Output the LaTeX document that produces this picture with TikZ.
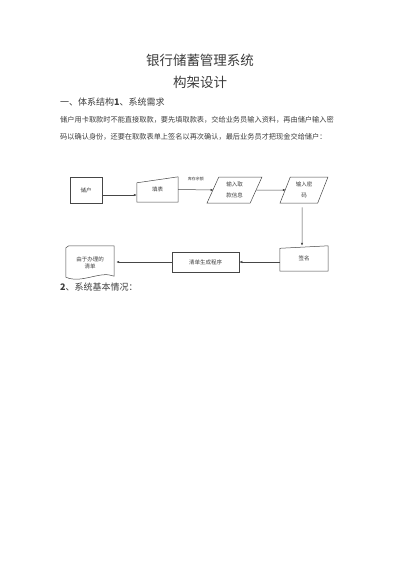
\documentclass[tikz,border=0pt]{standalone}
\usepackage{fontspec}
\setmainfont{Noto Sans CJK SC}
\usetikzlibrary{positioning,shapes.geometric,calc,arrows.meta}
\definecolor{inkgray}{RGB}{60,60,60}
\definecolor{linegray}{RGB}{70,70,70}
\tikzset{
  pagetxt/.style={anchor=west, inner sep=0pt, text=inkgray, align=left},
  flowbox/.style={draw=linegray, line width=0.5pt, inner sep=0pt, align=center,
                  text=inkgray, font=\fontsize{5.5}{11}\selectfont},
  flowslant/.style={trapezium, trapezium left angle=69, trapezium right angle=111,
                    trapezium stretches=true, draw=linegray, line width=0.5pt,
                    inner sep=0pt, align=center, text=inkgray,
                    font=\fontsize{5.5}{11}\selectfont},
  flowghost/.style={inner sep=0pt, align=center, text=inkgray,
                    font=\fontsize{5.5}{11}\selectfont},
  flowarr/.style={->, >={Latex[length=3pt,width=2.4pt]}, draw=linegray, line width=0.5pt},
  flowedge/.style={draw=linegray, line width=0.5pt},
}
\begin{document}
\begin{tikzpicture}[x=1pt,y=-1pt]
    \useasboundingbox (0,0) rectangle (400,566);

    % title and text of the page
    \node[text=inkgray, font=\fontsize{13.5}{15}\selectfont] (title) at (200,60) {银行储蓄管理系统};
    \node[text=inkgray, font=\fontsize{13.5}{15}\selectfont] (subtitle) at (200,82) {构架设计};
    \node[pagetxt, font=\fontsize{9}{11}\selectfont] (sec1) at (60,102) {一、体系结构\textbf{1}、系统需求};
    \node[pagetxt, font=\fontsize{7.2}{17}\selectfont] (body) at (60,128.5)
      {储户用卡取款时不能直接取款，要先填取款表，交给业务员输入资料，再由储户输入密\\
       码以确认身份，还要在取款表单上签名以再次确认，最后业务员才把现金交给储户：};
    \node[pagetxt, font=\fontsize{9}{11}\selectfont] (sec2) at (60,287) {\textbf{2}、系统基本情况：};

    % top row
    \node[flowbox, minimum width=32pt, minimum height=26pt] (chuhu) at (86,190) {\raisebox{-5pt}{储户}};
    \node[flowghost, minimum width=41pt, minimum height=25pt] (tianbiao) at (157.5,189.5) {填表};
    \draw[flowedge] (tianbiao.south west) -- ([yshift=-6pt]tianbiao.north west)
      -- (tianbiao.north east) -- (tianbiao.south east) -- cycle;
    \node[flowslant, minimum width=55pt, minimum height=26pt] (quxinxi) at (234.5,190) {输入取\\款信息};
    \node[flowslant, minimum width=48pt, minimum height=26pt] (mima) at (304,190) {输入密\\码};

    % bottom row
    \node[flowghost, minimum width=48pt, minimum height=25pt] (qianming) at (304,258.5) {签名};
    \draw[flowedge] (qianming.south west) -- ([yshift=-2.5pt]qianming.north west)
      -- (qianming.north east) -- (qianming.south east) -- cycle;
    \node[flowbox, minimum width=67pt, minimum height=20pt] (qingdan) at (205.5,262) {清单生成程序};
    \node[flowghost, minimum width=48pt, minimum height=34pt,
          font=\fontsize{5.5}{7}\selectfont] (danju) at (90,263) {由于办理的\\清单};
    \draw[flowedge] ([yshift=-2pt]danju.north west) -- ([xshift=3pt]danju.north west)
      -- (danju.north east) -- ([yshift=4pt]danju.south east)
      .. controls ([xshift=10pt,yshift=10pt]danju.south) and ([xshift=-8pt,yshift=-4pt]danju.south)
      .. ([yshift=3pt]danju.south west) -- cycle;

    % connectors
    \coordinate (chuhuout) at ([yshift=-5pt]chuhu.east);
    \draw[flowarr] (chuhuout) -- (tianbiao.west |- chuhuout);
    \draw[flowarr] (tianbiao.east) -- node[above=5pt, text=inkgray,
      font=\fontsize{4}{5}\selectfont] (kucun) {库存余额} ([xshift=1pt]quxinxi.west);
    \draw[flowarr] (quxinxi.east) -- ([xshift=1pt]mima.west);
    \draw[flowarr] ([yshift=-4pt,xshift=-2pt]mima.south) -- ([xshift=-2pt]qianming.north);
    \draw[flowarr] (qianming.west |- qingdan.east) -- (qingdan.east);
    \draw[flowarr] (qingdan.west) -- ([xshift=2pt]danju.east |- qingdan.west);

\end{tikzpicture}
\end{document}
